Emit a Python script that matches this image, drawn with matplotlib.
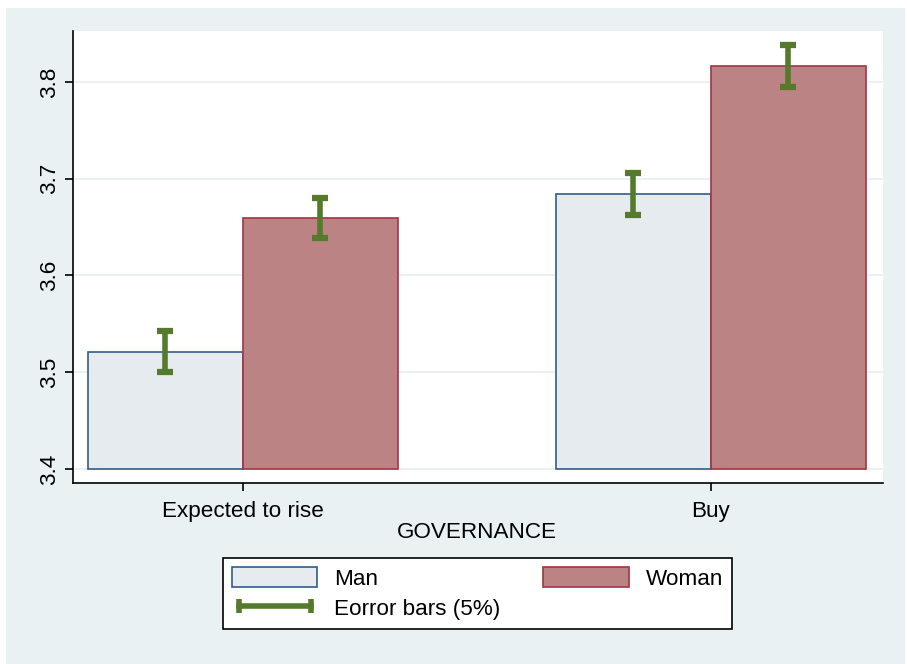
import matplotlib
matplotlib.use('Agg')
import matplotlib.pyplot as plt
from matplotlib.patches import Patch, Rectangle
from matplotlib.lines import Line2D
import numpy as np

plt.rcParams['font.family'] = ['Liberation Sans', 'DejaVu Sans']

# Dados
categorias = ['Expected to rise', 'Buy']
media_homem = [3.521, 3.684]
media_mulher = [3.659, 3.816]
ic_homem_inf = [3.500, 3.662]
ic_homem_sup = [3.543, 3.706]
ic_mulher_inf = [3.639, 3.795]
ic_mulher_sup = [3.680, 3.838]
yticks = [3.4, 3.5, 3.6, 3.7, 3.8]

cor_fundo = '#E9F1F3'
cor_homem = '#E6EBEF'
borda_homem = '#2F5E8C'
cor_mulher = '#BC8385'
borda_mulher = '#A33444'
cor_erro = '#557A2C'
tam = 16.2

fig = plt.figure(figsize=(9.07, 6.64), dpi=100)
fig.patches.append(Rectangle((6 / 907, 0), 899 / 907, 656 / 664, transform=fig.transFigure,
                             facecolor=cor_fundo, edgecolor='none', zorder=-10))

ax = fig.add_axes([73 / 907, 1 - 483 / 664, 810 / 907, 452 / 664])
ax.set_facecolor('white')

x = np.arange(len(categorias))
larg = 0.331
base = 3.4
ax.bar(x - larg / 2, np.array(media_homem) - base, larg, bottom=base,
       color=cor_homem, edgecolor=borda_homem, linewidth=1.2, zorder=2)
ax.bar(x + larg / 2, np.array(media_mulher) - base, larg, bottom=base,
       color=cor_mulher, edgecolor=borda_mulher, linewidth=1.2, zorder=2)

# Barras de erro
for xs, inf, sup in [(x - larg / 2, ic_homem_inf, ic_homem_sup),
                     (x + larg / 2, ic_mulher_inf, ic_mulher_sup)]:
    ax.vlines(xs, inf, sup, color=cor_erro, linewidth=4, zorder=3)
    ax.plot(xs, inf, linestyle='none', marker='_', markersize=11, markeredgewidth=4.5,
            color=cor_erro, zorder=3)
    ax.plot(xs, sup, linestyle='none', marker='_', markersize=11, markeredgewidth=4.5,
            color=cor_erro, zorder=3)

ax.set_xlim(-0.363, 1.368)
ax.set_ylim(3.3856, 3.8526)
ax.set_xticks(x)
ax.set_xticklabels(categorias, fontsize=tam)
ax.set_yticks(yticks)
ax.set_yticklabels([f'{v:.1f}' for v in yticks], fontsize=tam, rotation=90, va='center')
ax.yaxis.grid(True, color=cor_fundo, linewidth=1.5, zorder=0)
ax.set_axisbelow(True)
for lado in ['top', 'right']:
    ax.spines[lado].set_visible(False)
ax.spines['left'].set_linewidth(1.2)
ax.spines['bottom'].set_linewidth(1.2)
ax.tick_params(axis='both', length=6, width=1.2)
ax.tick_params(axis='x', pad=7)

fig.text(476.5 / 907, 1 - 532 / 664, 'GOVERNANCE', fontsize=tam, ha='center', va='center')

# Legenda
h_homem = Patch(facecolor=cor_homem, edgecolor=borda_homem, linewidth=1.2)
h_mulher = Patch(facecolor=cor_mulher, edgecolor=borda_mulher, linewidth=1.2)
h_erro = Line2D([], [], color=cor_erro, linewidth=4, marker='|', markersize=10,
                markeredgewidth=4)
leg = fig.legend([h_homem, h_erro, h_mulher], ['Man', 'Eorror bars (5%)', 'Woman'],
                 ncol=2, loc='center', bbox_to_anchor=(477.5 / 907, 1 - 593.5 / 664),
                 frameon=True, fancybox=False, fontsize=tam, numpoints=2,
                 handlelength=3.8, handleheight=1.0, columnspacing=1.9,
                 borderpad=0.4, labelspacing=0.3, handletextpad=0.75,
                 facecolor='white', framealpha=1)
leg.get_frame().set_edgecolor('black')
leg.get_frame().set_linewidth(1.2)

fig.savefig('out.png', dpi=100, facecolor='white')
